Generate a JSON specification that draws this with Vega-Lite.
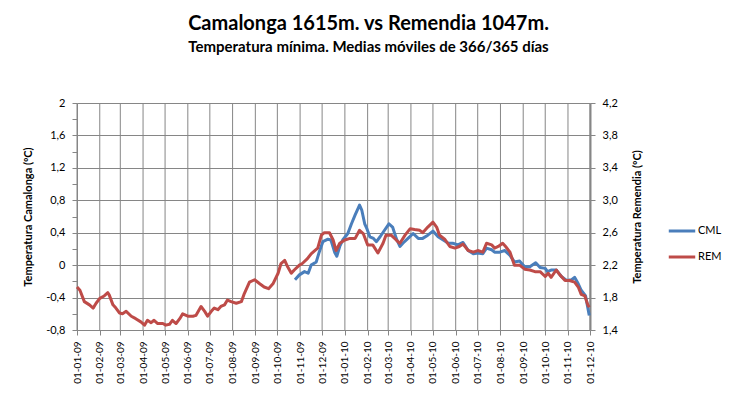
{
  "$schema": "https://vega.github.io/schema/vega-lite/v6.json",
  "width": 513,
  "height": 227,
  "autosize": {"type": "none"},
  "padding": {"left": 77, "top": 103, "right": 148, "bottom": 68},
  "background": "white",
  "title": {
    "text": "Camalonga 1615m. vs Remendia 1047m.",
    "subtitle": "Temperatura mínima. Medias móviles de 366/365 días",
    "anchor": "middle",
    "frame": "group",
    "dx": 35,
    "offset": 42,
    "font": "Lato",
    "fontSize": 20,
    "fontWeight": "bold",
    "color": "#000000",
    "subtitleFont": "Lato",
    "subtitleFontSize": 15,
    "subtitleFontWeight": "bold",
    "subtitleColor": "#000000",
    "subtitlePadding": 6
  },
  "datasets": {
    "months": [
      {"date": "2009-01-01"}, {"date": "2009-02-01"}, {"date": "2009-03-01"}, {"date": "2009-04-01"},
      {"date": "2009-05-01"}, {"date": "2009-06-01"}, {"date": "2009-07-01"}, {"date": "2009-08-01"},
      {"date": "2009-09-01"}, {"date": "2009-10-01"}, {"date": "2009-11-01"}, {"date": "2009-12-01"},
      {"date": "2010-01-01"}, {"date": "2010-02-01"}, {"date": "2010-03-01"}, {"date": "2010-04-01"},
      {"date": "2010-05-01"}, {"date": "2010-06-01"}, {"date": "2010-07-01"}, {"date": "2010-08-01"},
      {"date": "2010-09-01"}, {"date": "2010-10-01"}, {"date": "2010-11-01"}, {"date": "2010-12-01"}
    ],
    "series": [
      {"date": "2009-10-25", "series": "CML", "value": -0.18},
      {"date": "2009-10-31", "series": "CML", "value": -0.12},
      {"date": "2009-11-07", "series": "CML", "value": -0.08},
      {"date": "2009-11-12", "series": "CML", "value": -0.1},
      {"date": "2009-11-16", "series": "CML", "value": 0.0},
      {"date": "2009-11-23", "series": "CML", "value": 0.04},
      {"date": "2009-11-27", "series": "CML", "value": 0.16},
      {"date": "2009-12-02", "series": "CML", "value": 0.29},
      {"date": "2009-12-09", "series": "CML", "value": 0.32},
      {"date": "2009-12-13", "series": "CML", "value": 0.31},
      {"date": "2009-12-18", "series": "CML", "value": 0.16},
      {"date": "2009-12-21", "series": "CML", "value": 0.11},
      {"date": "2009-12-25", "series": "CML", "value": 0.23},
      {"date": "2009-12-29", "series": "CML", "value": 0.31},
      {"date": "2010-01-05", "series": "CML", "value": 0.39},
      {"date": "2010-01-10", "series": "CML", "value": 0.51},
      {"date": "2010-01-15", "series": "CML", "value": 0.62},
      {"date": "2010-01-21", "series": "CML", "value": 0.74},
      {"date": "2010-01-24", "series": "CML", "value": 0.68},
      {"date": "2010-01-28", "series": "CML", "value": 0.51},
      {"date": "2010-01-31", "series": "CML", "value": 0.45},
      {"date": "2010-02-04", "series": "CML", "value": 0.35},
      {"date": "2010-02-09", "series": "CML", "value": 0.33},
      {"date": "2010-02-13", "series": "CML", "value": 0.29},
      {"date": "2010-02-18", "series": "CML", "value": 0.35},
      {"date": "2010-02-24", "series": "CML", "value": 0.43},
      {"date": "2010-03-02", "series": "CML", "value": 0.51},
      {"date": "2010-03-07", "series": "CML", "value": 0.47},
      {"date": "2010-03-12", "series": "CML", "value": 0.33},
      {"date": "2010-03-17", "series": "CML", "value": 0.23},
      {"date": "2010-03-21", "series": "CML", "value": 0.27},
      {"date": "2010-03-28", "series": "CML", "value": 0.33},
      {"date": "2010-04-04", "series": "CML", "value": 0.39},
      {"date": "2010-04-11", "series": "CML", "value": 0.33},
      {"date": "2010-04-17", "series": "CML", "value": 0.33},
      {"date": "2010-04-24", "series": "CML", "value": 0.37},
      {"date": "2010-05-01", "series": "CML", "value": 0.42},
      {"date": "2010-05-08", "series": "CML", "value": 0.35},
      {"date": "2010-05-15", "series": "CML", "value": 0.31},
      {"date": "2010-05-22", "series": "CML", "value": 0.27},
      {"date": "2010-05-28", "series": "CML", "value": 0.27},
      {"date": "2010-06-04", "series": "CML", "value": 0.25},
      {"date": "2010-06-11", "series": "CML", "value": 0.28},
      {"date": "2010-06-18", "series": "CML", "value": 0.18},
      {"date": "2010-06-25", "series": "CML", "value": 0.14},
      {"date": "2010-07-01", "series": "CML", "value": 0.15},
      {"date": "2010-07-08", "series": "CML", "value": 0.14},
      {"date": "2010-07-13", "series": "CML", "value": 0.21},
      {"date": "2010-07-20", "series": "CML", "value": 0.19},
      {"date": "2010-07-24", "series": "CML", "value": 0.16},
      {"date": "2010-07-31", "series": "CML", "value": 0.16},
      {"date": "2010-08-07", "series": "CML", "value": 0.18},
      {"date": "2010-08-14", "series": "CML", "value": 0.12},
      {"date": "2010-08-20", "series": "CML", "value": 0.04},
      {"date": "2010-08-27", "series": "CML", "value": 0.05},
      {"date": "2010-09-03", "series": "CML", "value": -0.02},
      {"date": "2010-09-10", "series": "CML", "value": -0.02},
      {"date": "2010-09-18", "series": "CML", "value": 0.03},
      {"date": "2010-09-24", "series": "CML", "value": -0.03},
      {"date": "2010-10-01", "series": "CML", "value": -0.04},
      {"date": "2010-10-04", "series": "CML", "value": -0.08},
      {"date": "2010-10-09", "series": "CML", "value": -0.06},
      {"date": "2010-10-16", "series": "CML", "value": -0.06},
      {"date": "2010-10-23", "series": "CML", "value": -0.14},
      {"date": "2010-10-30", "series": "CML", "value": -0.19},
      {"date": "2010-11-06", "series": "CML", "value": -0.18},
      {"date": "2010-11-10", "series": "CML", "value": -0.15},
      {"date": "2010-11-15", "series": "CML", "value": -0.23},
      {"date": "2010-11-19", "series": "CML", "value": -0.31},
      {"date": "2010-11-25", "series": "CML", "value": -0.38},
      {"date": "2010-11-30", "series": "CML", "value": -0.62},

      {"date": "2009-01-01", "series": "REM", "value": 1.93},
      {"date": "2009-01-05", "series": "REM", "value": 1.89},
      {"date": "2009-01-11", "series": "REM", "value": 1.75},
      {"date": "2009-01-18", "series": "REM", "value": 1.71},
      {"date": "2009-01-23", "series": "REM", "value": 1.67},
      {"date": "2009-01-27", "series": "REM", "value": 1.73},
      {"date": "2009-02-01", "series": "REM", "value": 1.79},
      {"date": "2009-02-07", "series": "REM", "value": 1.82},
      {"date": "2009-02-12", "series": "REM", "value": 1.86},
      {"date": "2009-02-14", "series": "REM", "value": 1.83},
      {"date": "2009-02-19", "series": "REM", "value": 1.71},
      {"date": "2009-02-23", "series": "REM", "value": 1.67},
      {"date": "2009-02-28", "series": "REM", "value": 1.61},
      {"date": "2009-03-04", "series": "REM", "value": 1.6},
      {"date": "2009-03-09", "series": "REM", "value": 1.63},
      {"date": "2009-03-16", "series": "REM", "value": 1.57},
      {"date": "2009-03-22", "series": "REM", "value": 1.54},
      {"date": "2009-03-29", "series": "REM", "value": 1.5},
      {"date": "2009-04-03", "series": "REM", "value": 1.46},
      {"date": "2009-04-07", "series": "REM", "value": 1.52},
      {"date": "2009-04-12", "series": "REM", "value": 1.49},
      {"date": "2009-04-16", "series": "REM", "value": 1.52},
      {"date": "2009-04-21", "series": "REM", "value": 1.48},
      {"date": "2009-04-28", "series": "REM", "value": 1.48},
      {"date": "2009-05-02", "series": "REM", "value": 1.46},
      {"date": "2009-05-07", "series": "REM", "value": 1.47},
      {"date": "2009-05-11", "series": "REM", "value": 1.52},
      {"date": "2009-05-16", "series": "REM", "value": 1.48},
      {"date": "2009-05-21", "series": "REM", "value": 1.54},
      {"date": "2009-05-25", "series": "REM", "value": 1.6},
      {"date": "2009-06-01", "series": "REM", "value": 1.57},
      {"date": "2009-06-08", "series": "REM", "value": 1.57},
      {"date": "2009-06-12", "series": "REM", "value": 1.58},
      {"date": "2009-06-19", "series": "REM", "value": 1.69},
      {"date": "2009-06-24", "series": "REM", "value": 1.63},
      {"date": "2009-06-28", "series": "REM", "value": 1.57},
      {"date": "2009-07-03", "series": "REM", "value": 1.63},
      {"date": "2009-07-07", "series": "REM", "value": 1.67},
      {"date": "2009-07-12", "series": "REM", "value": 1.65},
      {"date": "2009-07-16", "series": "REM", "value": 1.69},
      {"date": "2009-07-21", "series": "REM", "value": 1.71},
      {"date": "2009-07-25", "series": "REM", "value": 1.77},
      {"date": "2009-07-30", "series": "REM", "value": 1.75},
      {"date": "2009-08-06", "series": "REM", "value": 1.73},
      {"date": "2009-08-13", "series": "REM", "value": 1.75},
      {"date": "2009-08-17", "series": "REM", "value": 1.85},
      {"date": "2009-08-24", "series": "REM", "value": 1.99},
      {"date": "2009-08-31", "series": "REM", "value": 2.02},
      {"date": "2009-09-07", "series": "REM", "value": 1.97},
      {"date": "2009-09-13", "series": "REM", "value": 1.93},
      {"date": "2009-09-19", "series": "REM", "value": 1.91},
      {"date": "2009-09-25", "series": "REM", "value": 1.97},
      {"date": "2009-10-02", "series": "REM", "value": 2.1},
      {"date": "2009-10-06", "series": "REM", "value": 2.22},
      {"date": "2009-10-11", "series": "REM", "value": 2.26},
      {"date": "2009-10-15", "series": "REM", "value": 2.18},
      {"date": "2009-10-20", "series": "REM", "value": 2.1},
      {"date": "2009-10-24", "series": "REM", "value": 2.14},
      {"date": "2009-10-31", "series": "REM", "value": 2.2},
      {"date": "2009-11-04", "series": "REM", "value": 2.22},
      {"date": "2009-11-11", "series": "REM", "value": 2.28},
      {"date": "2009-11-16", "series": "REM", "value": 2.34},
      {"date": "2009-11-21", "series": "REM", "value": 2.38},
      {"date": "2009-11-25", "series": "REM", "value": 2.41},
      {"date": "2009-11-30", "series": "REM", "value": 2.57},
      {"date": "2009-12-04", "series": "REM", "value": 2.6},
      {"date": "2009-12-11", "series": "REM", "value": 2.6},
      {"date": "2009-12-16", "series": "REM", "value": 2.51},
      {"date": "2009-12-20", "series": "REM", "value": 2.38},
      {"date": "2009-12-25", "series": "REM", "value": 2.47},
      {"date": "2010-01-01", "series": "REM", "value": 2.51},
      {"date": "2010-01-08", "series": "REM", "value": 2.53},
      {"date": "2010-01-15", "series": "REM", "value": 2.53},
      {"date": "2010-01-21", "series": "REM", "value": 2.63},
      {"date": "2010-01-26", "series": "REM", "value": 2.59},
      {"date": "2010-02-01", "series": "REM", "value": 2.45},
      {"date": "2010-02-08", "series": "REM", "value": 2.45},
      {"date": "2010-02-15", "series": "REM", "value": 2.35},
      {"date": "2010-02-22", "series": "REM", "value": 2.47},
      {"date": "2010-02-26", "series": "REM", "value": 2.57},
      {"date": "2010-03-05", "series": "REM", "value": 2.57},
      {"date": "2010-03-12", "series": "REM", "value": 2.51},
      {"date": "2010-03-17", "series": "REM", "value": 2.47},
      {"date": "2010-03-24", "series": "REM", "value": 2.57},
      {"date": "2010-03-31", "series": "REM", "value": 2.65},
      {"date": "2010-04-06", "series": "REM", "value": 2.64},
      {"date": "2010-04-13", "series": "REM", "value": 2.63},
      {"date": "2010-04-17", "series": "REM", "value": 2.6},
      {"date": "2010-04-24", "series": "REM", "value": 2.67},
      {"date": "2010-05-01", "series": "REM", "value": 2.73},
      {"date": "2010-05-06", "series": "REM", "value": 2.67},
      {"date": "2010-05-10", "series": "REM", "value": 2.57},
      {"date": "2010-05-17", "series": "REM", "value": 2.52},
      {"date": "2010-05-24", "series": "REM", "value": 2.43},
      {"date": "2010-05-31", "series": "REM", "value": 2.41},
      {"date": "2010-06-06", "series": "REM", "value": 2.43},
      {"date": "2010-06-11", "series": "REM", "value": 2.46},
      {"date": "2010-06-18", "series": "REM", "value": 2.38},
      {"date": "2010-06-25", "series": "REM", "value": 2.36},
      {"date": "2010-07-01", "series": "REM", "value": 2.38},
      {"date": "2010-07-08", "series": "REM", "value": 2.36},
      {"date": "2010-07-13", "series": "REM", "value": 2.47},
      {"date": "2010-07-20", "series": "REM", "value": 2.45},
      {"date": "2010-07-24", "series": "REM", "value": 2.41},
      {"date": "2010-07-29", "series": "REM", "value": 2.43},
      {"date": "2010-08-04", "series": "REM", "value": 2.47},
      {"date": "2010-08-08", "series": "REM", "value": 2.43},
      {"date": "2010-08-14", "series": "REM", "value": 2.36},
      {"date": "2010-08-20", "series": "REM", "value": 2.2},
      {"date": "2010-08-27", "series": "REM", "value": 2.2},
      {"date": "2010-09-03", "series": "REM", "value": 2.15},
      {"date": "2010-09-10", "series": "REM", "value": 2.14},
      {"date": "2010-09-17", "series": "REM", "value": 2.12},
      {"date": "2010-09-24", "series": "REM", "value": 2.12},
      {"date": "2010-10-01", "series": "REM", "value": 2.06},
      {"date": "2010-10-05", "series": "REM", "value": 2.1},
      {"date": "2010-10-09", "series": "REM", "value": 2.05},
      {"date": "2010-10-16", "series": "REM", "value": 2.14},
      {"date": "2010-10-21", "series": "REM", "value": 2.08},
      {"date": "2010-10-28", "series": "REM", "value": 2.01},
      {"date": "2010-11-03", "series": "REM", "value": 2.01},
      {"date": "2010-11-10", "series": "REM", "value": 1.99},
      {"date": "2010-11-15", "series": "REM", "value": 1.93},
      {"date": "2010-11-19", "series": "REM", "value": 1.84},
      {"date": "2010-11-24", "series": "REM", "value": 1.82},
      {"date": "2010-11-28", "series": "REM", "value": 1.71},
      {"date": "2010-11-30", "series": "REM", "value": 1.68}
    ]
  },
  "layer": [
    {
      "data": {"name": "months"},
      "mark": {"type": "rule", "color": "#868686", "strokeWidth": 1},
      "encoding": {
        "x": {
          "field": "date",
          "type": "temporal",
          "scale": {
            "type": "utc",
            "domain": [
              {"year": 2009, "month": 1, "date": 1, "utc": true},
              {"year": 2010, "month": 12, "date": 1, "utc": true}
            ],
            "nice": false
          },
          "axis": {
            "title": null,
            "labelExpr": "utcFormat(datum.value, '%d-%m-%y')",
            "labelAngle": -90,
            "labelFont": "Lato",
            "labelFontSize": 10,
            "labelColor": "#000000",
            "labelPadding": 6,
            "labelOverlap": false,
            "labelFlush": false,
            "tickSize": 5,
            "tickColor": "#868686",
            "domainColor": "#868686",
            "grid": false,
            "values": [
              {"year": 2009, "month": 1, "date": 1, "utc": true},
              {"year": 2009, "month": 2, "date": 1, "utc": true},
              {"year": 2009, "month": 3, "date": 1, "utc": true},
              {"year": 2009, "month": 4, "date": 1, "utc": true},
              {"year": 2009, "month": 5, "date": 1, "utc": true},
              {"year": 2009, "month": 6, "date": 1, "utc": true},
              {"year": 2009, "month": 7, "date": 1, "utc": true},
              {"year": 2009, "month": 8, "date": 1, "utc": true},
              {"year": 2009, "month": 9, "date": 1, "utc": true},
              {"year": 2009, "month": 10, "date": 1, "utc": true},
              {"year": 2009, "month": 11, "date": 1, "utc": true},
              {"year": 2009, "month": 12, "date": 1, "utc": true},
              {"year": 2010, "month": 1, "date": 1, "utc": true},
              {"year": 2010, "month": 2, "date": 1, "utc": true},
              {"year": 2010, "month": 3, "date": 1, "utc": true},
              {"year": 2010, "month": 4, "date": 1, "utc": true},
              {"year": 2010, "month": 5, "date": 1, "utc": true},
              {"year": 2010, "month": 6, "date": 1, "utc": true},
              {"year": 2010, "month": 7, "date": 1, "utc": true},
              {"year": 2010, "month": 8, "date": 1, "utc": true},
              {"year": 2010, "month": 9, "date": 1, "utc": true},
              {"year": 2010, "month": 10, "date": 1, "utc": true},
              {"year": 2010, "month": 11, "date": 1, "utc": true},
              {"year": 2010, "month": 12, "date": 1, "utc": true}
            ]
          }
        }
      }
    },
    {
      "data": {"name": "series"},
      "transform": [{"filter": "datum.series == 'CML'"}],
      "mark": {"type": "line", "strokeWidth": 3, "strokeJoin": "round"},
      "encoding": {
        "x": {
          "field": "date",
          "type": "temporal",
          "axis": {
            "title": null,
            "labelExpr": "utcFormat(datum.value, '%d-%m-%y')",
            "labelAngle": -90,
            "labelFont": "Lato",
            "labelFontSize": 10,
            "labelColor": "#000000",
            "labelPadding": 6,
            "labelOverlap": false,
            "labelFlush": false,
            "tickSize": 5,
            "tickColor": "#868686",
            "domainColor": "#868686",
            "grid": false,
            "values": [
              {"year": 2009, "month": 1, "date": 1, "utc": true},
              {"year": 2009, "month": 2, "date": 1, "utc": true},
              {"year": 2009, "month": 3, "date": 1, "utc": true},
              {"year": 2009, "month": 4, "date": 1, "utc": true},
              {"year": 2009, "month": 5, "date": 1, "utc": true},
              {"year": 2009, "month": 6, "date": 1, "utc": true},
              {"year": 2009, "month": 7, "date": 1, "utc": true},
              {"year": 2009, "month": 8, "date": 1, "utc": true},
              {"year": 2009, "month": 9, "date": 1, "utc": true},
              {"year": 2009, "month": 10, "date": 1, "utc": true},
              {"year": 2009, "month": 11, "date": 1, "utc": true},
              {"year": 2009, "month": 12, "date": 1, "utc": true},
              {"year": 2010, "month": 1, "date": 1, "utc": true},
              {"year": 2010, "month": 2, "date": 1, "utc": true},
              {"year": 2010, "month": 3, "date": 1, "utc": true},
              {"year": 2010, "month": 4, "date": 1, "utc": true},
              {"year": 2010, "month": 5, "date": 1, "utc": true},
              {"year": 2010, "month": 6, "date": 1, "utc": true},
              {"year": 2010, "month": 7, "date": 1, "utc": true},
              {"year": 2010, "month": 8, "date": 1, "utc": true},
              {"year": 2010, "month": 9, "date": 1, "utc": true},
              {"year": 2010, "month": 10, "date": 1, "utc": true},
              {"year": 2010, "month": 11, "date": 1, "utc": true},
              {"year": 2010, "month": 12, "date": 1, "utc": true}
            ]
          }
        },
        "y": {
          "field": "value",
          "type": "quantitative",
          "scale": {"domain": [-0.8, 2], "nice": false, "zero": false},
          "axis": {
            "orient": "left",
            "title": "Temperatura Camalonga  (ºC)",
            "titleFont": "Lato",
            "titleFontSize": 11,
            "titleFontWeight": "bold",
            "titleColor": "#000000",
            "titlePadding": 12,
            "values": [-0.8, -0.6, -0.4, -0.2, 0, 0.2, 0.4, 0.6, 0.8, 1, 1.2, 1.4, 1.6, 1.8, 2],
            "labelExpr": "abs(round(datum.value*10)) % 4 == 0 ? replace(replace(format(datum.value, '.1~f'), '.', ','), '−', '-') : ''",
            "labelFont": "Lato",
            "labelFontSize": 11,
            "labelColor": "#000000",
            "labelPadding": 7,
            "tickSize": 5,
            "tickColor": "#868686",
            "domainColor": "#868686",
            "grid": true,
            "gridColor": "#868686",
            "gridOpacity": {"condition": {"test": "abs(round(datum.value*10)) % 4 == 0", "value": 1}, "value": 0}
          }
        },
        "color": {
          "field": "series",
          "type": "nominal",
          "scale": {"domain": ["CML", "REM"], "range": ["#4A7EBB", "#BE4B48"]},
          "legend": {
            "title": null,
            "orient": "none",
            "legendX": 590,
            "legendY": 113,
            "symbolType": "stroke",
            "symbolStrokeWidth": 3,
            "symbolSize": 700,
            "labelFont": "Lato",
            "labelFontSize": 11,
            "labelColor": "#000000",
            "labelOffset": 1,
            "rowPadding": 5
          }
        }
      }
    },
    {
      "data": {"name": "series"},
      "transform": [{"filter": "datum.series == 'REM'"}],
      "mark": {"type": "line", "strokeWidth": 3, "strokeJoin": "round"},
      "encoding": {
        "x": {
          "field": "date",
          "type": "temporal",
          "axis": {
            "title": null,
            "labelExpr": "utcFormat(datum.value, '%d-%m-%y')",
            "labelAngle": -90,
            "labelFont": "Lato",
            "labelFontSize": 10,
            "labelColor": "#000000",
            "labelPadding": 6,
            "labelOverlap": false,
            "labelFlush": false,
            "tickSize": 5,
            "tickColor": "#868686",
            "domainColor": "#868686",
            "grid": false,
            "values": [
              {"year": 2009, "month": 1, "date": 1, "utc": true},
              {"year": 2009, "month": 2, "date": 1, "utc": true},
              {"year": 2009, "month": 3, "date": 1, "utc": true},
              {"year": 2009, "month": 4, "date": 1, "utc": true},
              {"year": 2009, "month": 5, "date": 1, "utc": true},
              {"year": 2009, "month": 6, "date": 1, "utc": true},
              {"year": 2009, "month": 7, "date": 1, "utc": true},
              {"year": 2009, "month": 8, "date": 1, "utc": true},
              {"year": 2009, "month": 9, "date": 1, "utc": true},
              {"year": 2009, "month": 10, "date": 1, "utc": true},
              {"year": 2009, "month": 11, "date": 1, "utc": true},
              {"year": 2009, "month": 12, "date": 1, "utc": true},
              {"year": 2010, "month": 1, "date": 1, "utc": true},
              {"year": 2010, "month": 2, "date": 1, "utc": true},
              {"year": 2010, "month": 3, "date": 1, "utc": true},
              {"year": 2010, "month": 4, "date": 1, "utc": true},
              {"year": 2010, "month": 5, "date": 1, "utc": true},
              {"year": 2010, "month": 6, "date": 1, "utc": true},
              {"year": 2010, "month": 7, "date": 1, "utc": true},
              {"year": 2010, "month": 8, "date": 1, "utc": true},
              {"year": 2010, "month": 9, "date": 1, "utc": true},
              {"year": 2010, "month": 10, "date": 1, "utc": true},
              {"year": 2010, "month": 11, "date": 1, "utc": true},
              {"year": 2010, "month": 12, "date": 1, "utc": true}
            ]
          }
        },
        "y": {
          "field": "value",
          "type": "quantitative",
          "scale": {"domain": [1.4, 4.2], "nice": false, "zero": false},
          "axis": {
            "orient": "right",
            "title": "Temperatura Remendia  (ºC)",
            "titleFont": "Lato",
            "titleFontSize": 11,
            "titleFontWeight": "bold",
            "titleColor": "#000000",
            "titleAngle": 270,
            "titlePadding": 25,
            "values": [1.4, 1.8, 2.2, 2.6, 3.0, 3.4, 3.8, 4.2],
            "labelExpr": "replace(format(datum.value, '.1f'), '.', ',')",
            "labelFont": "Lato",
            "labelFontSize": 11,
            "labelColor": "#000000",
            "labelPadding": 7,
            "tickSize": 5,
            "tickColor": "#868686",
            "domainColor": "#868686",
            "domainWidth": 2,
            "grid": false
          }
        },
        "color": {"field": "series", "type": "nominal"}
      }
    }
  ],
  "resolve": {"scale": {"y": "independent"}},
  "config": {
    "view": {"stroke": null},
    "axis": {"domainWidth": 1, "tickWidth": 1, "gridWidth": 1}
  }
}
